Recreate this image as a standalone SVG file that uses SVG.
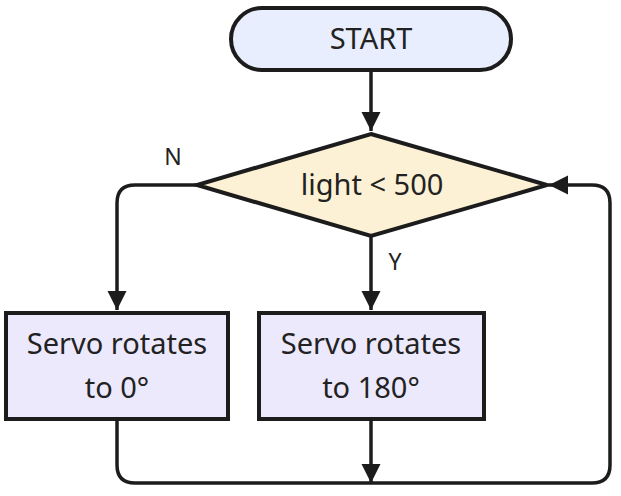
<svg xmlns="http://www.w3.org/2000/svg" width="621" height="496" viewBox="0 0 621 496">
<style>
text{font-family:"Noto Sans","Liberation Sans",sans-serif;fill:#222;text-anchor:middle}
.n{stroke:#1c1c1c;stroke-width:4}
.c{fill:none;stroke:#1c1c1c;stroke-width:3.5}
.t{font-size:29px}
.l{font-size:23px}
</style>
<defs>
<marker id="a" viewBox="0 0 10 10" refX="10" refY="5" markerWidth="5.5" markerHeight="5.5" markerUnits="strokeWidth" orient="auto"><path d="M0,0L10,5L0,10z" fill="#1c1c1c"/></marker>
</defs>
<rect width="621" height="496" fill="#fff"/>
<g id="connectors">
<path class="c" d="M371,72V131" marker-end="url(#a)"/>
<path class="c" d="M197,185H135Q117,185 117,203V310" marker-end="url(#a)"/>
<path class="c" d="M371,237V310" marker-end="url(#a)"/>
<path class="c" d="M371,421V483" marker-end="url(#a)"/>
<path class="c" d="M117,421V465Q117,483 135,483H592Q610,483 610,465V203Q610,185 592,185H549" marker-end="url(#a)"/>
<text class="l" x="173" y="165">N</text>
<text class="l" x="395" y="270">Y</text>
</g>
<g id="start">
<rect class="n" x="231" y="8" width="280" height="62" rx="31" fill="#E8EEFD"/>
<text class="t" x="371" y="49">START</text>
</g>
<g id="decision">
<path class="n" d="M371,134L547,185L371,236L197,185Z" fill="#FCF1D4" stroke-linejoin="miter"/>
<text class="t" x="372" y="195">light &lt; 500</text>
</g>
<g id="servo0">
<rect class="n" x="6" y="313" width="222" height="106" fill="#ECE9FD"/>
<text class="t" x="117" y="354">Servo rotates</text>
<text class="t" x="117" y="398">to 0°</text>
</g>
<g id="servo180">
<rect class="n" x="259" y="313" width="225" height="106" fill="#ECE9FD"/>
<text class="t" x="371" y="354">Servo rotates</text>
<text class="t" x="371" y="398">to 180°</text>
</g>
</svg>
